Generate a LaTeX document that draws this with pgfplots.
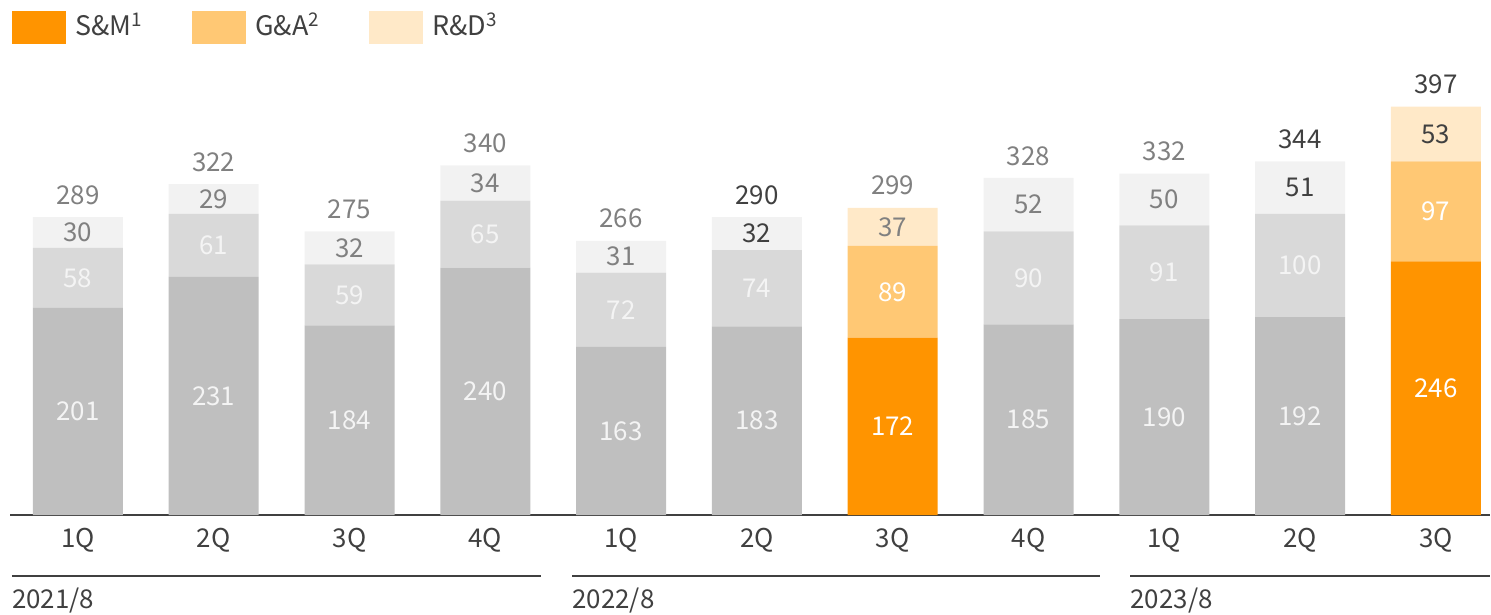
\documentclass[border=0pt]{standalone}
\usepackage{pgfplots}
\pgfplotsset{compat=1.18}
\usepackage{pgfplotstable}
\usepackage{fontspec}
\setmainfont{Noto Sans CJK JP}
\definecolor{cOr}{HTML}{FF9400}
\definecolor{cGA}{HTML}{FFC874}
\definecolor{cRD}{HTML}{FFE9C8}
\definecolor{g1}{HTML}{BFBFBF}
\definecolor{g2}{HTML}{D9D9D9}
\definecolor{g3}{HTML}{F2F2F2}
\definecolor{tg}{HTML}{808080}
\definecolor{td}{HTML}{404040}
\definecolor{tl}{HTML}{F4F4F4}

\pgfplotstableread{
x gb gm gt ob om ot
0 201 58 30 0 0 0
1 231 61 29 0 0 0
2 184 59 32 0 0 0
3 240 65 34 0 0 0
4 163 72 31 0 0 0
5 183 74 32 0 0 0
6 0 0 0 172 89 37
7 185 90 52 0 0 0
8 190 91 50 0 0 0
9 192 100 51 0 0 0
10 0 0 0 246 97 53
}\data

\begin{document}
\begin{tikzpicture}[lab/.style={font=\fontsize{26}{30}\selectfont, inner sep=0pt}]
\useasboundingbox (-10bp,-100bp) rectangle (1481bp,515bp);
\begin{axis}[
  at={(0,0)}, anchor=south west,
  x=135.8bp, y=1.031bp,
  xmin=-0.5, xmax=10.4, ymin=0, ymax=420,
  ybar stacked, bar width=90bp,
  axis x line*=bottom, axis y line=none,
  x axis line style={draw=td, line width=1.6bp, -},
  xtick={0,...,10},
  xticklabels={1Q,2Q,3Q,4Q,1Q,2Q,3Q,4Q,1Q,2Q,3Q},
  xtick style={draw=none},
  major tick length=0pt,
  xticklabel style={anchor=center, yshift=-25bp, font=\fontsize{26}{30}\selectfont, text=td, inner sep=0pt},
  clip=false,
  legend columns=3,
  legend style={at={(0.0014,1.164)}, anchor=north west, draw=none, fill=none,
    inner sep=0pt, outer sep=0pt,
    font=\fontsize{27}{31}\selectfont, text=td,
    nodes={inner sep=0pt},
    /tikz/every odd column/.append style={column sep=9bp},
    /tikz/every even column/.append style={column sep=50bp}},
  legend image code/.code={\path[#1, draw=none] (0bp,-19bp) rectangle (54bp,14bp);},
]
\addplot[fill=g1, draw=none, forget plot] table[x=x,y=gb]{\data};
\addplot[fill=g2, draw=none, forget plot] table[x=x,y=gm]{\data};
\addplot[fill=g3, draw=none, forget plot] table[x=x,y=gt]{\data};
\addplot[fill=cOr, draw=none] table[x=x,y=ob]{\data};
\addlegendentry{S\&M\textsuperscript{1}}
\addplot[fill=cGA, draw=none] table[x=x,y=om]{\data};
\addlegendentry{G\&A\textsuperscript{2}}
\addplot[fill=cRD, draw=none] table[x=x,y=ot]{\data};
\addlegendentry{R\&D\textsuperscript{3}}

% label anchor points (segment centres and bar tops)
\coordinate (a0) at (axis cs:0,100.5);  \coordinate (b0) at (axis cs:0,230);   \coordinate (c0) at (axis cs:0,274);   \coordinate (d0) at (axis cs:0,289);
\coordinate (a1) at (axis cs:1,115.5);  \coordinate (b1) at (axis cs:1,261.5); \coordinate (c1) at (axis cs:1,306.5); \coordinate (d1) at (axis cs:1,321);
\coordinate (a2) at (axis cs:2,92);     \coordinate (b2) at (axis cs:2,213.5); \coordinate (c2) at (axis cs:2,259);   \coordinate (d2) at (axis cs:2,275);
\coordinate (a3) at (axis cs:3,120);    \coordinate (b3) at (axis cs:3,272.5); \coordinate (c3) at (axis cs:3,322);   \coordinate (d3) at (axis cs:3,339);
\coordinate (a4) at (axis cs:4,81.5);   \coordinate (b4) at (axis cs:4,199);   \coordinate (c4) at (axis cs:4,250.5); \coordinate (d4) at (axis cs:4,266);
\coordinate (a5) at (axis cs:5,91.5);   \coordinate (b5) at (axis cs:5,220);   \coordinate (c5) at (axis cs:5,273);   \coordinate (d5) at (axis cs:5,289);
\coordinate (a6) at (axis cs:6,86);     \coordinate (b6) at (axis cs:6,216.5); \coordinate (c6) at (axis cs:6,279.5); \coordinate (d6) at (axis cs:6,298);
\coordinate (a7) at (axis cs:7,92.5);   \coordinate (b7) at (axis cs:7,230);   \coordinate (c7) at (axis cs:7,301);   \coordinate (d7) at (axis cs:7,327);
\coordinate (a8) at (axis cs:8,95);     \coordinate (b8) at (axis cs:8,235.5); \coordinate (c8) at (axis cs:8,306);   \coordinate (d8) at (axis cs:8,331);
\coordinate (a9) at (axis cs:9,96);     \coordinate (b9) at (axis cs:9,242);   \coordinate (c9) at (axis cs:9,317.5); \coordinate (d9) at (axis cs:9,343);
\coordinate (a10) at (axis cs:10,123);  \coordinate (b10) at (axis cs:10,294.5); \coordinate (c10) at (axis cs:10,369.5); \coordinate (d10) at (axis cs:10,396);

% fiscal year groups
\draw[td, line width=1.1bp] (axis cs:-0.486,-59.2) -- (axis cs:3.41,-59.2);
\draw[td, line width=1.1bp] (axis cs:3.64,-59.2) -- (axis cs:7.53,-59.2);
\draw[td, line width=1.1bp] (axis cs:7.75,-59.2) -- (axis cs:10.4,-59.2);
\node[lab, text=td, anchor=west] at (axis cs:-0.486,-83.4) {2021/8};
\node[lab, text=td, anchor=west] at (axis cs:3.64,-83.4) {2022/8};
\node[lab, text=td, anchor=west] at (axis cs:7.75,-83.4) {2023/8};
\end{axis}

% bottom segment labels
\node[lab, text=tl] at (a0) {201};
\node[lab, text=tl] at (a1) {231};
\node[lab, text=tl] at (a2) {184};
\node[lab, text=tl] at (a3) {240};
\node[lab, text=tl] at (a4) {163};
\node[lab, text=tl] at (a5) {183};
\node[lab, text=white] at (a6) {172};
\node[lab, text=tl] at (a7) {185};
\node[lab, text=tl] at (a8) {190};
\node[lab, text=tl] at (a9) {192};
\node[lab, text=white] at (a10) {246};
% middle segment labels
\node[lab, text=tl] at (b0) {58};
\node[lab, text=tl] at (b1) {61};
\node[lab, text=tl] at (b2) {59};
\node[lab, text=tl] at (b3) {65};
\node[lab, text=tl] at (b4) {72};
\node[lab, text=tl] at (b5) {74};
\node[lab, text=white] at (b6) {89};
\node[lab, text=tl] at (b7) {90};
\node[lab, text=tl] at (b8) {91};
\node[lab, text=tl] at (b9) {100};
\node[lab, text=white] at (b10) {97};
% top segment labels
\node[lab, text=tg] at (c0) {30};
\node[lab, text=tg] at (c1) {29};
\node[lab, text=tg] at (c2) {32};
\node[lab, text=tg] at (c3) {34};
\node[lab, text=tg] at (c4) {31};
\node[lab, text=td] at (c5) {32};
\node[lab, text=tg] at (c6) {37};
\node[lab, text=tg] at (c7) {52};
\node[lab, text=tg] at (c8) {50};
\node[lab, text=td] at (c9) {51};
\node[lab, text=td] at (c10) {53};
% totals
\node[lab, text=tg, yshift=22bp] at (d0) {289};
\node[lab, text=tg, yshift=22bp] at (d1) {322};
\node[lab, text=tg, yshift=22bp] at (d2) {275};
\node[lab, text=tg, yshift=22bp] at (d3) {340};
\node[lab, text=tg, yshift=22bp] at (d4) {266};
\node[lab, text=td, yshift=22bp] at (d5) {290};
\node[lab, text=tg, yshift=22bp] at (d6) {299};
\node[lab, text=tg, yshift=22bp] at (d7) {328};
\node[lab, text=tg, yshift=22bp] at (d8) {332};
\node[lab, text=td, yshift=22bp] at (d9) {344};
\node[lab, text=td, yshift=22bp] at (d10) {397};
\end{tikzpicture}
\end{document}
